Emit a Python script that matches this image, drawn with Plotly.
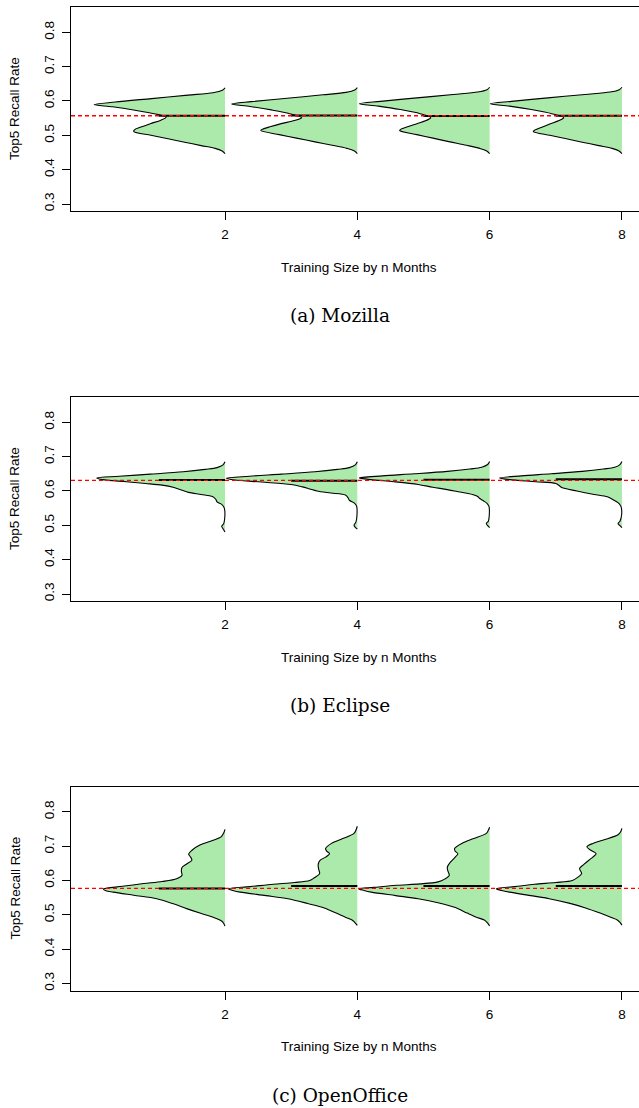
import plotly.graph_objects as go

# ---------------- data ----------------
months = [2, 4, 6, 8]
tick_y = [0.3, 0.4, 0.5, 0.6, 0.7, 0.8]
tick_y_text = ["0.3", "0.4", "0.5", "0.6", "0.7", "0.8"]
captions = ["(a) Mozilla", "(b) Eclipse", "(c) OpenOffice"]
overall_mean = [0.557, 0.631, 0.577]
mozilla_bean_mean = [0.557, 0.558, 0.556, 0.557]
eclipse_bean_mean = [0.632, 0.630, 0.633, 0.634]
openoffice_bean_mean = [0.577, 0.584, 0.584, 0.584]

# density profiles of each bean: recall level, density (width)
mozilla_2_y = [0.638, 0.631, 0.624, 0.617, 0.607, 0.597, 0.5895, 0.583, 0.573, 0.563, 0.553, 0.544, 0.534, 0.524, 0.516, 0.511, 0.500, 0.490, 0.480, 0.470, 0.462, 0.455, 0.447]
mozilla_2_d = [0.00, 0.04, 0.18, 0.56, 1.11, 1.66, 1.98, 1.70, 1.36, 1.07, 0.89, 0.97, 1.13, 1.27, 1.37, 1.38, 1.12, 0.86, 0.61, 0.36, 0.15, 0.05, 0.00]
mozilla_4_y = [0.639, 0.632, 0.625, 0.618, 0.608, 0.598, 0.591, 0.584, 0.574, 0.563, 0.551, 0.543, 0.534, 0.525, 0.518, 0.514, 0.502, 0.491, 0.481, 0.471, 0.462, 0.455, 0.447]
mozilla_4_d = [0.00, 0.04, 0.17, 0.52, 1.06, 1.60, 1.90, 1.62, 1.30, 1.02, 0.84, 0.95, 1.15, 1.32, 1.43, 1.46, 1.18, 0.90, 0.64, 0.38, 0.16, 0.05, 0.00]
mozilla_6_y = [0.640, 0.633, 0.626, 0.619, 0.609, 0.599, 0.592, 0.585, 0.575, 0.563, 0.551, 0.543, 0.534, 0.525, 0.518, 0.514, 0.502, 0.491, 0.481, 0.471, 0.462, 0.455, 0.447]
mozilla_6_d = [0.00, 0.04, 0.18, 0.55, 1.10, 1.65, 1.97, 1.68, 1.35, 1.05, 0.89, 0.96, 1.10, 1.24, 1.34, 1.36, 1.10, 0.84, 0.60, 0.35, 0.15, 0.05, 0.00]
mozilla_8_y = [0.640, 0.633, 0.626, 0.619, 0.609, 0.599, 0.592, 0.585, 0.575, 0.563, 0.551, 0.543, 0.533, 0.523, 0.515, 0.511, 0.500, 0.490, 0.480, 0.470, 0.462, 0.455, 0.447]
mozilla_8_d = [0.00, 0.04, 0.18, 0.56, 1.12, 1.67, 1.99, 1.70, 1.37, 1.06, 0.88, 0.95, 1.09, 1.22, 1.32, 1.34, 1.09, 0.84, 0.60, 0.35, 0.15, 0.05, 0.00]

eclipse_2_y = [0.685, 0.676, 0.668, 0.663, 0.656, 0.649, 0.643, 0.638, 0.633, 0.627, 0.622, 0.617, 0.610, 0.603, 0.596, 0.590, 0.584, 0.576, 0.568, 0.561, 0.554, 0.545, 0.520, 0.505, 0.497, 0.490, 0.481]
eclipse_2_d = [0.00, 0.03, 0.12, 0.30, 0.63, 1.13, 1.60, 1.94, 1.85, 1.49, 1.20, 0.95, 0.77, 0.66, 0.55, 0.36, 0.19, 0.14, 0.12, 0.05, 0.02, 0.005, 0.005, 0.02, 0.05, 0.03, 0.00]
eclipse_4_y = [0.685, 0.676, 0.668, 0.663, 0.656, 0.649, 0.643, 0.637, 0.632, 0.626, 0.619, 0.612, 0.606, 0.600, 0.594, 0.588, 0.580, 0.573, 0.564, 0.555, 0.530, 0.510, 0.500, 0.494, 0.489]
eclipse_4_d = [0.00, 0.03, 0.12, 0.30, 0.64, 1.15, 1.63, 1.98, 1.85, 1.45, 1.00, 0.83, 0.72, 0.61, 0.40, 0.18, 0.14, 0.12, 0.04, 0.01, 0.005, 0.02, 0.05, 0.03, 0.00]
eclipse_6_y = [0.686, 0.677, 0.669, 0.664, 0.657, 0.650, 0.644, 0.638, 0.633, 0.627, 0.619, 0.611, 0.604, 0.597, 0.590, 0.584, 0.578, 0.571, 0.564, 0.555, 0.530, 0.512, 0.505, 0.499, 0.493]
eclipse_6_d = [0.00, 0.03, 0.12, 0.30, 0.64, 1.14, 1.62, 1.97, 1.80, 1.45, 1.08, 0.86, 0.64, 0.45, 0.26, 0.18, 0.15, 0.09, 0.04, 0.01, 0.005, 0.02, 0.05, 0.03, 0.00]
eclipse_8_y = [0.686, 0.677, 0.669, 0.664, 0.657, 0.650, 0.644, 0.638, 0.633, 0.627, 0.622, 0.616, 0.610, 0.600, 0.590, 0.583, 0.573, 0.566, 0.560, 0.552, 0.530, 0.512, 0.505, 0.499, 0.493]
eclipse_8_d = [0.00, 0.03, 0.11, 0.28, 0.60, 1.07, 1.52, 1.85, 1.70, 1.30, 1.00, 0.95, 0.91, 0.68, 0.42, 0.22, 0.12, 0.06, 0.03, 0.01, 0.005, 0.03, 0.06, 0.03, 0.00]

openoffice_2_y = [0.749, 0.738, 0.727, 0.717, 0.703, 0.688, 0.677, 0.668, 0.659, 0.648, 0.638, 0.627, 0.615, 0.605, 0.597, 0.591, 0.583, 0.575, 0.570, 0.566, 0.557, 0.547, 0.532, 0.518, 0.505, 0.493, 0.484, 0.478, 0.467]
openoffice_2_d = [0.00, 0.02, 0.06, 0.18, 0.38, 0.50, 0.55, 0.52, 0.50, 0.58, 0.65, 0.66, 0.65, 0.73, 0.95, 1.23, 1.55, 1.84, 1.80, 1.69, 1.38, 1.03, 0.78, 0.58, 0.38, 0.18, 0.07, 0.03, 0.00]
openoffice_4_y = [0.758, 0.747, 0.737, 0.722, 0.708, 0.693, 0.685, 0.678, 0.668, 0.659, 0.648, 0.639, 0.630, 0.620, 0.608, 0.600, 0.594, 0.589, 0.582, 0.576, 0.571, 0.566, 0.556, 0.547, 0.533, 0.520, 0.505, 0.493, 0.485, 0.478, 0.469]
openoffice_4_d = [0.00, 0.02, 0.05, 0.22, 0.39, 0.48, 0.46, 0.42, 0.48, 0.56, 0.59, 0.59, 0.58, 0.57, 0.65, 0.72, 0.95, 1.27, 1.62, 1.95, 1.88, 1.77, 1.38, 1.05, 0.75, 0.50, 0.32, 0.18, 0.08, 0.04, 0.00]
openoffice_6_y = [0.755, 0.746, 0.737, 0.722, 0.708, 0.693, 0.685, 0.678, 0.666, 0.654, 0.639, 0.627, 0.615, 0.604, 0.596, 0.590, 0.586, 0.580, 0.576, 0.571, 0.566, 0.556, 0.547, 0.535, 0.522, 0.505, 0.493, 0.485, 0.478, 0.468]
openoffice_6_d = [0.00, 0.02, 0.05, 0.24, 0.42, 0.53, 0.52, 0.48, 0.53, 0.59, 0.64, 0.63, 0.61, 0.68, 0.78, 1.05, 1.41, 1.75, 1.98, 1.90, 1.79, 1.42, 1.08, 0.78, 0.53, 0.34, 0.20, 0.08, 0.04, 0.00]
openoffice_8_y = [0.752, 0.742, 0.733, 0.718, 0.708, 0.698, 0.688, 0.678, 0.668, 0.659, 0.646, 0.635, 0.620, 0.609, 0.600, 0.594, 0.589, 0.582, 0.576, 0.571, 0.566, 0.556, 0.547, 0.534, 0.520, 0.505, 0.493, 0.485, 0.478, 0.470]
openoffice_8_d = [0.00, 0.02, 0.06, 0.28, 0.44, 0.53, 0.47, 0.39, 0.44, 0.50, 0.58, 0.64, 0.61, 0.67, 0.75, 1.00, 1.32, 1.62, 1.90, 1.82, 1.70, 1.38, 1.10, 0.80, 0.55, 0.33, 0.17, 0.07, 0.03, 0.00]

panels = [
    ([(mozilla_2_y, mozilla_2_d), (mozilla_4_y, mozilla_4_d), (mozilla_6_y, mozilla_6_d), (mozilla_8_y, mozilla_8_d)], mozilla_bean_mean),
    ([(eclipse_2_y, eclipse_2_d), (eclipse_4_y, eclipse_4_d), (eclipse_6_y, eclipse_6_d), (eclipse_8_y, eclipse_8_d)], eclipse_bean_mean),
    ([(openoffice_2_y, openoffice_2_d), (openoffice_4_y, openoffice_4_d), (openoffice_6_y, openoffice_6_d), (openoffice_8_y, openoffice_8_d)], openoffice_bean_mean),
]

# ---------------- styling / geometry ----------------
W, H = 639, 1108
BOX_LEFT = 71
BOX_TOPS = [7, 397, 786.5]
BOX_H = 204
X_RANGE = [-0.328, 8.258]
Y_RANGE = [0.2796, 0.8737]
FILL = "#abeaab"
SANS = "Liberation Sans, Arial, Helvetica, sans-serif"
SERIF = "DejaVu Serif, serif"
LINE_LEN = 1.0

fig = go.Figure()
annotations = []
shapes = []

for i, (beans, means) in enumerate(panels):
    sfx = "" if i == 0 else str(i + 1)
    xa, ya = "x" + sfx, "y" + sfx
    for pos, (lev, dens), m in zip(months, beans, means):
        fig.add_trace(go.Scatter(
            x=[pos - d for d in dens], y=lev, xaxis=xa, yaxis=ya,
            mode="lines", fill="toself", fillcolor=FILL,
            line=dict(color="black", width=1.1, shape="spline", smoothing=0.9),
            hoverinfo="skip", showlegend=False))
        fig.add_trace(go.Scatter(
            x=[pos - LINE_LEN, pos], y=[m, m], xaxis=xa, yaxis=ya,
            mode="lines", line=dict(color="black", width=2),
            hoverinfo="skip", showlegend=False))
    shapes.append(dict(type="line", xref=xa + " domain", yref=ya, x0=0, x1=1,
                       y0=overall_mean[i], y1=overall_mean[i], layer="above",
                       line=dict(color="#ff0000", width=1.3, dash="4px,3px")))
    top = BOX_TOPS[i]
    bottom = top + BOX_H
    fig.update_layout(**{
        "xaxis" + sfx: dict(domain=[BOX_LEFT / W, 1], range=X_RANGE, anchor=ya,
                            tickvals=months, ticktext=[str(v) for v in months],
                            ticks="outside", ticklen=8, tickwidth=1, tickcolor="black",
                            ticklabelstandoff=3,
                            showline=True, mirror=True, linecolor="black", linewidth=1,
                            showgrid=False, zeroline=False, fixedrange=True,
                            tickfont=dict(family=SANS, size=13.5, color="black")),
        "yaxis" + sfx: dict(domain=[1 - bottom / H, 1 - top / H], range=Y_RANGE, anchor=xa,
                            tickvals=tick_y, ticktext=tick_y_text, tickangle=-90,
                            ticks="outside", ticklen=8, tickwidth=1, tickcolor="black",
                            ticklabelstandoff=3,
                            showline=True, mirror=False, linecolor="black", linewidth=1,
                            showgrid=False, zeroline=False, fixedrange=True,
                            tickfont=dict(family=SANS, size=13.5, color="black")),
    })
    annotations.append(dict(text="Top5 Recall Rate", xref="paper", yref="paper",
                            x=15 / W, y=1 - (top + BOX_H / 2) / H, textangle=-90,
                            showarrow=False, xanchor="center", yanchor="middle",
                            font=dict(family=SANS, size=13.5, color="black")))
    annotations.append(dict(text="Training Size by n Months", xref="paper", yref="paper",
                            x=359 / W, y=1 - (top + 260) / H,
                            showarrow=False, xanchor="center", yanchor="middle",
                            font=dict(family=SANS, size=13.5, color="black")))
    annotations.append(dict(text=captions[i], xref="paper", yref="paper",
                            x=340 / W, y=1 - (top + 308.5) / H,
                            showarrow=False, xanchor="center", yanchor="middle",
                            font=dict(family=SERIF, size=18.5, color="black")))

fig.update_layout(width=W, height=H, margin=dict(l=0, r=0, t=0, b=0),
                  paper_bgcolor="white", plot_bgcolor="white",
                  showlegend=False, annotations=annotations, shapes=shapes)

fig.write_html("out.html")
